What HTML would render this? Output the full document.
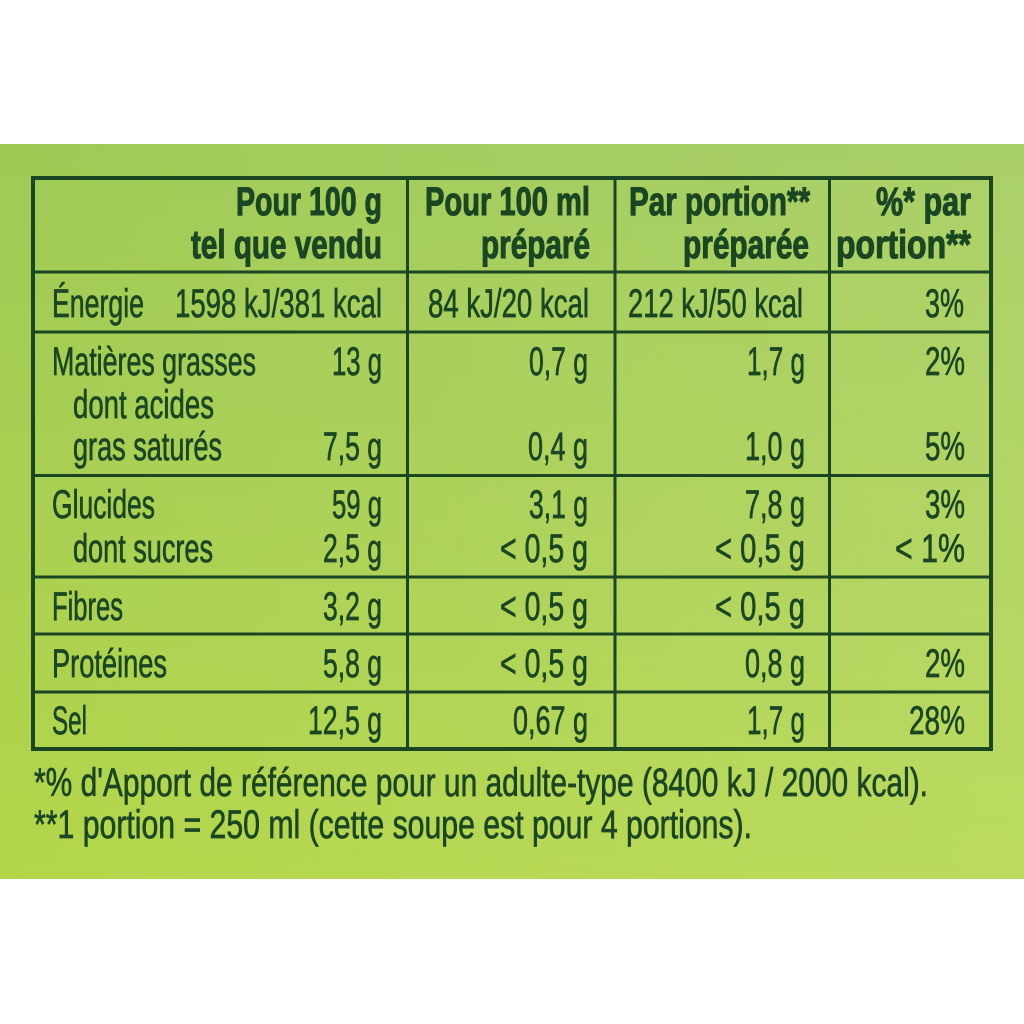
<!DOCTYPE html>
<html>
<head>
<meta charset="utf-8">
<style>
html,body{margin:0;padding:0;background:#fff;width:1024px;height:1024px;overflow:hidden;}
svg{display:block;}
text{font-family:"Liberation Sans",sans-serif;font-size:40px;fill:#1b4623;stroke:#1b4623;stroke-width:0.7px;}
.b{font-weight:bold;stroke-width:1.1px;}
</style>
</head>
<body>
<svg width="1024" height="1024" viewBox="0 0 1024 1024" xmlns="http://www.w3.org/2000/svg">
<defs>
<linearGradient id="g" x1="0" y1="0" x2="0" y2="1">
<stop offset="0" stop-color="#9fca56"/>
<stop offset="0.5" stop-color="#a9d051"/>
<stop offset="1" stop-color="#b3d649"/>
</linearGradient>
<linearGradient id="h" x1="0" y1="0" x2="1" y2="0">
<stop offset="0" stop-color="#ffffff" stop-opacity="0"/>
<stop offset="1" stop-color="#ffffff" stop-opacity="0.12"/>
</linearGradient>
</defs>
<rect x="0" y="0" width="1024" height="1024" fill="#ffffff"/>
<rect x="0" y="144" width="1024" height="735" fill="url(#g)"/>
<rect x="0" y="144" width="1024" height="735" fill="url(#h)"/>

<!-- table lines -->
<g stroke="#1b4623" fill="none">
<rect x="33" y="178" width="958" height="571" stroke-width="4"/>
<line x1="33" y1="272" x2="991" y2="272" stroke-width="3"/>
<line x1="33" y1="332" x2="991" y2="332" stroke-width="3"/>
<line x1="33" y1="475.5" x2="991" y2="475.5" stroke-width="3"/>
<line x1="33" y1="577" x2="991" y2="577" stroke-width="3"/>
<line x1="33" y1="634" x2="991" y2="634" stroke-width="3"/>
<line x1="33" y1="692" x2="991" y2="692" stroke-width="3"/>
<line x1="407.5" y1="178" x2="407.5" y2="749" stroke-width="3"/>
<line x1="615" y1="178" x2="615" y2="749" stroke-width="3"/>
<line x1="829.5" y1="178" x2="829.5" y2="749" stroke-width="3"/>
</g>

<!-- header -->
<text class="b" x="236" y="215" textLength="146" lengthAdjust="spacingAndGlyphs">Pour 100 g</text>
<text class="b" x="191" y="258" textLength="191" lengthAdjust="spacingAndGlyphs">tel que vendu</text>
<text class="b" x="425" y="215" textLength="165" lengthAdjust="spacingAndGlyphs">Pour 100 ml</text>
<text class="b" x="481" y="258" textLength="109" lengthAdjust="spacingAndGlyphs">préparé</text>
<text class="b" x="629" y="215" textLength="181" lengthAdjust="spacingAndGlyphs">Par portion**</text>
<text class="b" x="683" y="258" textLength="126" lengthAdjust="spacingAndGlyphs">préparée</text>
<text class="b" x="876" y="215" textLength="95" lengthAdjust="spacingAndGlyphs">%* par</text>
<text class="b" x="836" y="258" textLength="135" lengthAdjust="spacingAndGlyphs">portion**</text>

<!-- energy -->
<text x="52" y="317" textLength="92" lengthAdjust="spacingAndGlyphs">Énergie</text>
<text x="175" y="317" textLength="207" lengthAdjust="spacingAndGlyphs">1598 kJ/381 kcal</text>
<text x="428" y="317" textLength="161" lengthAdjust="spacingAndGlyphs">84 kJ/20 kcal</text>
<text x="628" y="317" textLength="175" lengthAdjust="spacingAndGlyphs">212 kJ/50 kcal</text>
<text x="925" y="317" textLength="39" lengthAdjust="spacingAndGlyphs">3%</text>

<!-- matières grasses -->
<text x="52" y="375" textLength="204" lengthAdjust="spacingAndGlyphs">Matières grasses</text>
<text x="332" y="375" textLength="50" lengthAdjust="spacingAndGlyphs">13 g</text>
<text x="529" y="375" textLength="59" lengthAdjust="spacingAndGlyphs">0,7 g</text>
<text x="747" y="375" textLength="58" lengthAdjust="spacingAndGlyphs">1,7 g</text>
<text x="925" y="375" textLength="40" lengthAdjust="spacingAndGlyphs">2%</text>
<text x="73" y="418" textLength="141" lengthAdjust="spacingAndGlyphs">dont acides</text>
<text x="73" y="460" textLength="149" lengthAdjust="spacingAndGlyphs">gras saturés</text>
<text x="323" y="460" textLength="59" lengthAdjust="spacingAndGlyphs">7,5 g</text>
<text x="528" y="460" textLength="60" lengthAdjust="spacingAndGlyphs">0,4 g</text>
<text x="745" y="460" textLength="60" lengthAdjust="spacingAndGlyphs">1,0 g</text>
<text x="925" y="460" textLength="40" lengthAdjust="spacingAndGlyphs">5%</text>

<!-- glucides -->
<text x="52" y="518" textLength="103" lengthAdjust="spacingAndGlyphs">Glucides</text>
<text x="332" y="518" textLength="50" lengthAdjust="spacingAndGlyphs">59 g</text>
<text x="529" y="518" textLength="59" lengthAdjust="spacingAndGlyphs">3,1 g</text>
<text x="745" y="518" textLength="60" lengthAdjust="spacingAndGlyphs">7,8 g</text>
<text x="925" y="518" textLength="40" lengthAdjust="spacingAndGlyphs">3%</text>
<text x="73" y="562" textLength="140" lengthAdjust="spacingAndGlyphs">dont sucres</text>
<text x="323" y="562" textLength="59" lengthAdjust="spacingAndGlyphs">2,5 g</text>
<text x="500" y="562" textLength="88" lengthAdjust="spacingAndGlyphs">&lt; 0,5 g</text>
<text x="715" y="562" textLength="90" lengthAdjust="spacingAndGlyphs">&lt; 0,5 g</text>
<text x="895" y="562" textLength="70" lengthAdjust="spacingAndGlyphs">&lt; 1%</text>

<!-- fibres -->
<text x="52" y="620" textLength="71" lengthAdjust="spacingAndGlyphs">Fibres</text>
<text x="323" y="620" textLength="59" lengthAdjust="spacingAndGlyphs">3,2 g</text>
<text x="500" y="620" textLength="88" lengthAdjust="spacingAndGlyphs">&lt; 0,5 g</text>
<text x="715" y="620" textLength="90" lengthAdjust="spacingAndGlyphs">&lt; 0,5 g</text>

<!-- protéines -->
<text x="52" y="677" textLength="115" lengthAdjust="spacingAndGlyphs">Protéines</text>
<text x="323" y="677" textLength="59" lengthAdjust="spacingAndGlyphs">5,8 g</text>
<text x="500" y="677" textLength="88" lengthAdjust="spacingAndGlyphs">&lt; 0,5 g</text>
<text x="745" y="677" textLength="60" lengthAdjust="spacingAndGlyphs">0,8 g</text>
<text x="925" y="677" textLength="40" lengthAdjust="spacingAndGlyphs">2%</text>

<!-- sel -->
<text x="52" y="734" textLength="35" lengthAdjust="spacingAndGlyphs">Sel</text>
<text x="308" y="734" textLength="74" lengthAdjust="spacingAndGlyphs">12,5 g</text>
<text x="513" y="734" textLength="75" lengthAdjust="spacingAndGlyphs">0,67 g</text>
<text x="747" y="734" textLength="58" lengthAdjust="spacingAndGlyphs">1,7 g</text>
<text x="909" y="734" textLength="56" lengthAdjust="spacingAndGlyphs">28%</text>

<!-- footnotes -->
<text x="34" y="796" textLength="894" lengthAdjust="spacingAndGlyphs">*% d'Apport de référence pour un adulte-type (8400 kJ / 2000 kcal).</text>
<text x="34" y="838" textLength="718" lengthAdjust="spacingAndGlyphs">**1 portion = 250 ml (cette soupe est pour 4 portions).</text>
</svg>
</body>
</html>
